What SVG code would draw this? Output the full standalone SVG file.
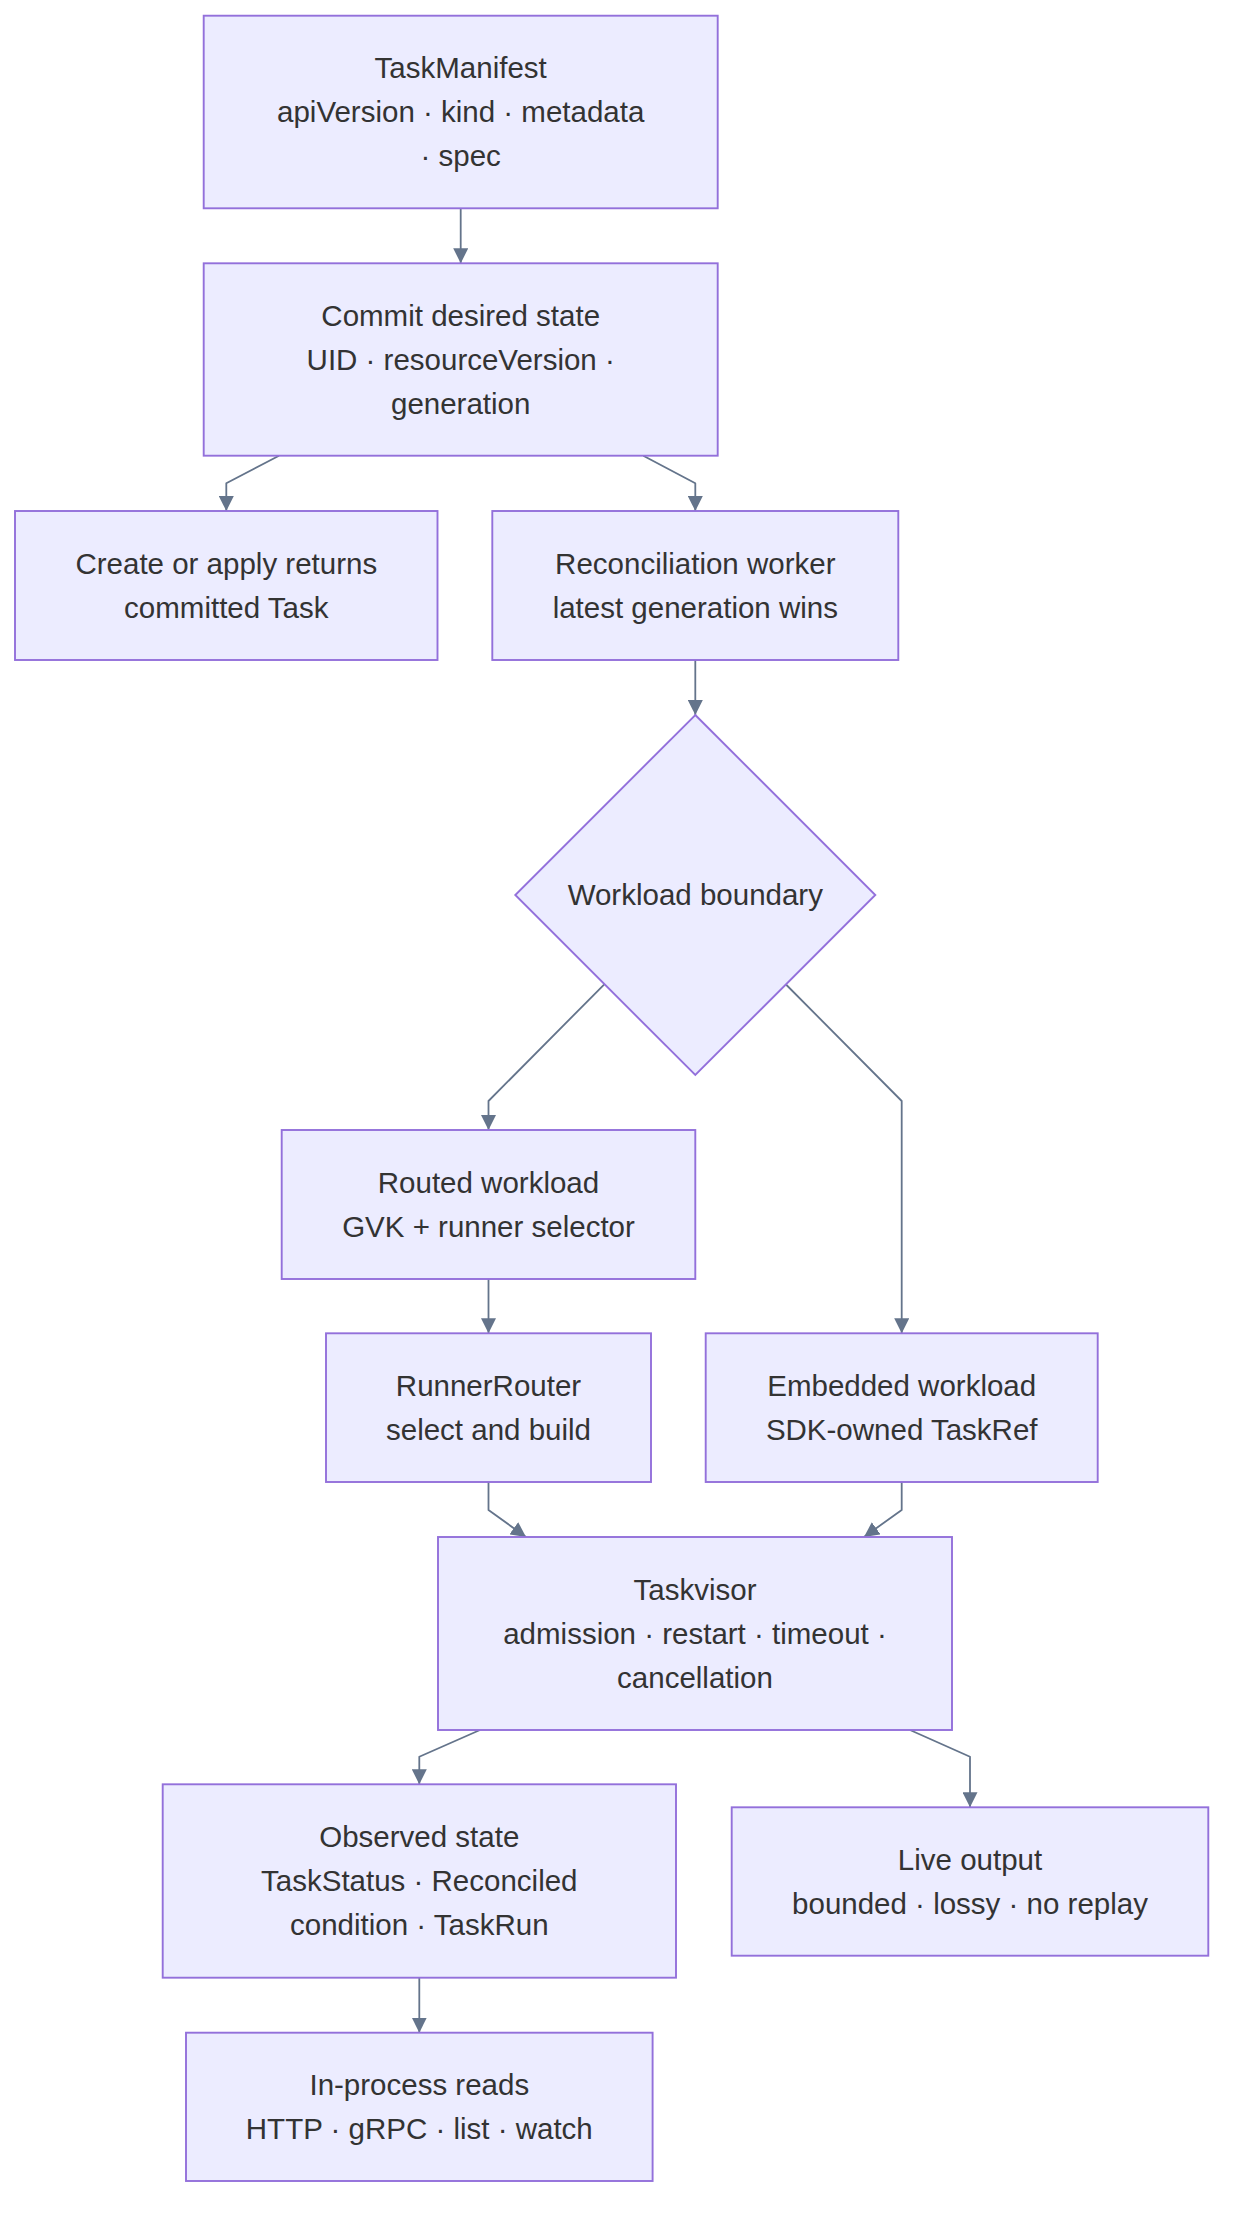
<svg xmlns="http://www.w3.org/2000/svg" width="1240" height="2226" viewBox="0 0 1240 2226">
<defs>
<style>
.node rect, .node polygon { fill: #ECECFF; stroke: #9370DB; stroke-width: 1.9; }
.node text { font-family: "Liberation Sans", Arial, Helvetica, sans-serif; font-size: 29.5px; fill: #333333; text-anchor: middle; }
.edge { fill: none; stroke: #64748b; stroke-width: 1.8; stroke-linejoin: round; marker-end: url(#arrow); }
</style>
<marker id="arrow" markerUnits="userSpaceOnUse" markerWidth="15" markerHeight="15" refX="15" refY="7.5" orient="auto">
<path d="M0,0 L15,7.5 L0,15 z" fill="#64748b"/>
</marker>
</defs>
<rect x="0" y="0" width="1240" height="2226" fill="#ffffff"/>
<g id="connectors">
<path class="edge" d="M460.7,208.3 L460.7,263.3"/>
<path class="edge" d="M279,455.7 L226.3,483.3 L226.3,511"/>
<path class="edge" d="M643.3,455.7 L695.3,483.3 L695.3,511"/>
<path class="edge" d="M695.3,660 L695.3,715"/>
<path class="edge" d="M604.3,984.3 L488.5,1101 L488.5,1130"/>
<path class="edge" d="M786,984.5 L901.7,1101 L901.7,1333.3"/>
<path class="edge" d="M488.5,1279 L488.5,1333.3"/>
<path class="edge" d="M488.5,1482 L488.5,1510 L526,1537"/>
<path class="edge" d="M901.7,1482 L901.7,1510 L864,1537"/>
<path class="edge" d="M480,1730 L419.3,1756.7 L419.3,1784.3"/>
<path class="edge" d="M910,1730 L970,1756.7 L970,1807.3"/>
<path class="edge" d="M419.3,1977.7 L419.3,2032.7"/>
</g>
<g id="taskmanifest" class="node">
<rect x="203.7" y="15.7" width="514" height="192.6"/>
<text x="460.7" y="78">TaskManifest</text>
<text x="460.7" y="122.2">apiVersion · kind · metadata</text>
<text x="460.7" y="166.4">· spec</text>
</g>
<g id="commit" class="node">
<rect x="203.7" y="263.3" width="514" height="192.4"/>
<text x="460.7" y="325.5">Commit desired state</text>
<text x="460.7" y="369.7">UID · resourceVersion ·</text>
<text x="460.7" y="413.9">generation</text>
</g>
<g id="create" class="node">
<rect x="15" y="511" width="422.5" height="149"/>
<text x="226.3" y="573.6">Create or apply returns</text>
<text x="226.3" y="617.8">committed Task</text>
</g>
<g id="reconcile" class="node">
<rect x="492.3" y="511" width="406" height="149"/>
<text x="695.3" y="573.6">Reconciliation worker</text>
<text x="695.3" y="617.8">latest generation wins</text>
</g>
<g id="boundary" class="node">
<polygon points="695.3,715 875.3,895 695.3,1075 515.3,895"/>
<text x="695.3" y="905">Workload boundary</text>
</g>
<g id="routed" class="node">
<rect x="281.7" y="1130" width="413.6" height="149"/>
<text x="488.5" y="1192.6">Routed workload</text>
<text x="488.5" y="1236.8">GVK + runner selector</text>
</g>
<g id="runnerrouter" class="node">
<rect x="326" y="1333.3" width="325" height="148.7"/>
<text x="488.5" y="1395.8">RunnerRouter</text>
<text x="488.5" y="1440">select and build</text>
</g>
<g id="embedded" class="node">
<rect x="705.7" y="1333.3" width="392" height="148.7"/>
<text x="901.7" y="1395.8">Embedded workload</text>
<text x="901.7" y="1440">SDK-owned TaskRef</text>
</g>
<g id="taskvisor" class="node">
<rect x="438" y="1537" width="514" height="193"/>
<text x="695" y="1599.5">Taskvisor</text>
<text x="695" y="1643.7">admission · restart · timeout ·</text>
<text x="695" y="1687.9">cancellation</text>
</g>
<g id="observed" class="node">
<rect x="162.7" y="1784.3" width="513.3" height="193.4"/>
<text x="419.3" y="1847">Observed state</text>
<text x="419.3" y="1891.2">TaskStatus · Reconciled</text>
<text x="419.3" y="1935.4">condition · TaskRun</text>
</g>
<g id="liveoutput" class="node">
<rect x="731.7" y="1807.3" width="476.6" height="148.4"/>
<text x="970" y="1869.6">Live output</text>
<text x="970" y="1913.8">bounded · lossy · no replay</text>
</g>
<g id="inprocess" class="node">
<rect x="186" y="2032.7" width="466.6" height="148.3"/>
<text x="419.3" y="2094.9">In-process reads</text>
<text x="419.3" y="2139.1">HTTP · gRPC · list · watch</text>
</g>
</svg>
